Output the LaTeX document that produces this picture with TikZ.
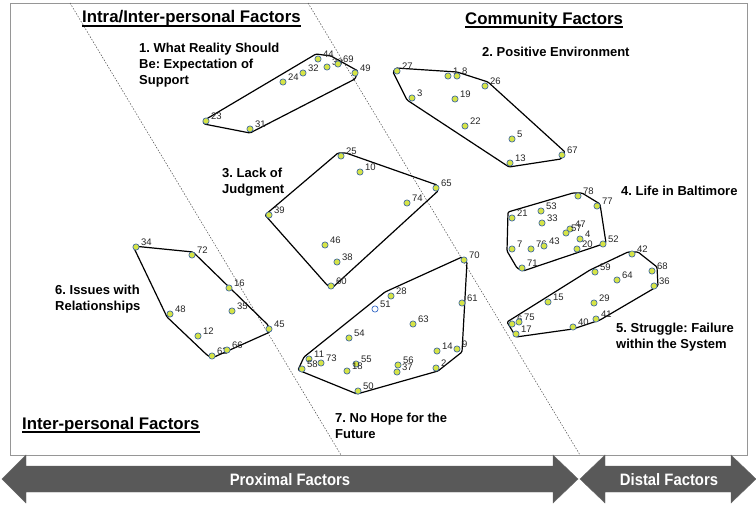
\documentclass[tikz,border=0pt]{standalone}
\usepackage{fontspec}
\setmainfont{Liberation Sans}
\usepackage{graphicx}
\frenchspacing
\definecolor{dotfill}{RGB}{214,228,70}
\definecolor{dotline}{RGB}{70,110,160}
\definecolor{hollowblue}{RGB}{60,110,200}
\definecolor{arrowgray}{RGB}{89,89,89}
\definecolor{framegray}{RGB}{150,150,150}
\newcommand{\dotpt}[4][dot]{\node[#1] (p#2) at (#3,#4) {};
  \node[num,anchor=west] (l#2) at ([shift={(5,-5)}]p#2.center) {#2};}
\begin{document}
\begin{tikzpicture}[x=1pt,y=-1pt,
  dot/.style={circle,inner sep=0pt,minimum size=6.2pt,fill=dotfill,draw=dotline,line width=0.7pt},
  hollow/.style={dot,fill=white,draw=hollowblue},
  num/.style={font=\fontsize{9.5}{11}\selectfont,inner sep=0pt,text=black!85},
  hull/.style={line width=1.2pt,line join=round,rounded corners=1.2pt},
  clab/.style={font=\bfseries\fontsize{13}{16}\selectfont,align=left,anchor=north west,inner sep=0pt},
  head/.style={font=\bfseries\fontsize{16.8}{19}\selectfont,anchor=base west,inner sep=0pt},
  uline/.style={line width=1.3pt},
  divider/.style={dash pattern=on 1.5pt off 1.5pt,line width=0.5pt,black!70},
  bigarrow/.style={fill=arrowgray,draw=black!60,line width=0.4pt,line join=miter},
  atext/.style={font=\bfseries\fontsize{16.5}{18}\selectfont,text=white,inner sep=0pt}]
\useasboundingbox (0,0) rectangle (756,506);
\fill[white] (0,0) rectangle (756,506);
% frame
\draw[framegray,line width=0.8pt] (10,3) rectangle (747,455);
% dividers
\coordinate (d1a) at (70,3); \coordinate (d1b) at (341,455);
\coordinate (d2a) at (308,3); \coordinate (d2b) at (580,455);
\draw[divider] (d1a) -- (d1b);
\draw[divider] (d2a) -- (d2b);
% headings
\node[head] (h1) at (82,23) {Intra/Inter-personal Factors};
\node[head] (h2) at (465,24) {Community Factors};
\node[head] (h3) at (22,429) {Inter-personal Factors};
\foreach \h in {h1,h2,h3}{\draw[uline] ([yshift=-3pt]\h.base west) -- ([yshift=-3pt]\h.base east);}
% cluster labels
\node[clab] (c1) at (139,43) {1. What Reality Should\\Be: Expectation of\\Support};
\node[clab] (c2) at (482,47) {2. Positive Environment};
\node[clab] (c3) at (222,168) {3. Lack of\\Judgment};
\node[clab] (c4) at (621,186) {4. Life in Baltimore};
\node[clab] (c5) at (616,323) {5. Struggle: Failure\\within the System};
\node[clab] (c6) at (55,285) {6. Issues with\\Relationships};
\node[clab] (c7) at (335,413) {7. No Hope for the\\Future};
% hulls
\draw[hull] (203,121) -- (316,54) -- (331,56) -- (358,71) -- (355,79) -- (250,133) -- (204,124) -- cycle;
\draw[hull] (396,68) -- (457,72) -- (488,82) -- (565,152) -- (561,159) -- (509,167) -- (407,100) -- (393,72) -- cycle;
\draw[hull] (338,153) -- (346,153) -- (437,185) -- (438,191) -- (332,288) -- (327,285) -- (265,215) -- cycle;
\draw[hull] (508,212) -- (573,193) -- (582,193) -- (600,204) -- (606,243) -- (523,271) -- (517,268) -- (507,251) -- cycle;
\draw[hull] (507,322) -- (590,270) -- (628,252) -- (638,252) -- (657,267) -- (658,286) -- (600,320) -- (573,329) -- (516,337) -- cycle;
\draw[hull] (133,246) -- (193,252) -- (268,325) -- (270,332) -- (212,358) -- (207,355) -- (167,317) -- cycle;
\draw[hull] (385,292) -- (462,257) -- (467,262) -- (462,352) -- (438,371) -- (357,394) -- (298,370) -- (304,357) -- cycle;
% cluster 1
\dotpt{23}{206}{121} \dotpt{31}{250}{129} \dotpt{24}{283}{82} \dotpt{32}{303}{73}
\dotpt{44}{318}{59} \dotpt{30}{327}{67} \dotpt{69}{338}{64} \dotpt{49}{355}{73}
% cluster 2
\dotpt{27}{397}{71} \dotpt{1}{448}{76} \dotpt{8}{457}{76} \dotpt{26}{485}{86}
\dotpt{3}{412}{98} \dotpt{19}{455}{99} \dotpt{22}{465}{126} \dotpt{5}{512}{139}
\dotpt{13}{510}{163} \dotpt{67}{562}{155}
% cluster 3
\dotpt{25}{341}{156} \dotpt{10}{360}{172} \dotpt{65}{436}{188} \dotpt{74}{407}{203}
\dotpt{39}{269}{215} \dotpt{46}{325}{245} \dotpt{38}{337}{262} \dotpt{60}{331}{286}
% cluster 4
\dotpt{78}{578}{196} \dotpt{77}{597}{206} \dotpt{21}{512}{218} \dotpt{53}{541}{211}
\dotpt{33}{542}{223} \dotpt{47}{570}{229} \dotpt{57}{566}{233} \dotpt{4}{580}{239}
\dotpt{20}{577}{249} \dotpt{52}{603}{244} \dotpt{7}{512}{249} \dotpt{76}{531}{249}
\dotpt{43}{544}{246} \dotpt{71}{522}{268}
% cluster 5
\dotpt{42}{632}{254} \dotpt{68}{652}{271} \dotpt{36}{654}{286} \dotpt{59}{595}{272}
\dotpt{64}{617}{280} \dotpt{15}{548}{302} \dotpt{29}{594}{303} \dotpt{41}{596}{319}
\dotpt{40}{573}{327} \dotpt{6}{512}{324} \dotpt{75}{519}{322} \dotpt{17}{516}{334}
% cluster 6
\dotpt{34}{136}{247} \dotpt{72}{192}{255} \dotpt{16}{229}{288} \dotpt{35}{232}{311}
\dotpt{48}{170}{314} \dotpt{45}{269}{329} \dotpt{12}{198}{336} \dotpt{62}{212}{356}
\dotpt{66}{227}{350}
% cluster 7
\dotpt{70}{464}{260} \dotpt{61}{462}{303} \dotpt{28}{391}{296} \dotpt[hollow]{51}{375}{309}
\dotpt{63}{413}{324} \dotpt{54}{349}{338} \dotpt{14}{437}{351} \dotpt{9}{457}{349}
\dotpt{11}{309}{359} \dotpt{73}{321}{363} \dotpt{58}{302}{369} \dotpt{55}{356}{364}
\dotpt{18}{347}{371} \dotpt{56}{398}{365} \dotpt{37}{397}{372} \dotpt{2}{436}{368}
\dotpt{50}{358}{391}
% bottom arrows
\draw[bigarrow] (2,479) -- (26,455) -- (26,466) -- (553,466) -- (553,455) -- (578,479)
  -- (553,503) -- (553,492) -- (26,492) -- (26,503) -- cycle;
\draw[bigarrow] (580,479) -- (605,455) -- (605,466) -- (731,466) -- (731,455) -- (756,479)
  -- (731,503) -- (731,492) -- (605,492) -- (605,503) -- cycle;
\node[atext] (prox) at (290,480) {\scalebox{0.9}[1]{Proximal Factors}};
\node[atext] (dist) at (669,480) {\scalebox{0.9}[1]{Distal Factors}};
\end{tikzpicture}
\end{document}
